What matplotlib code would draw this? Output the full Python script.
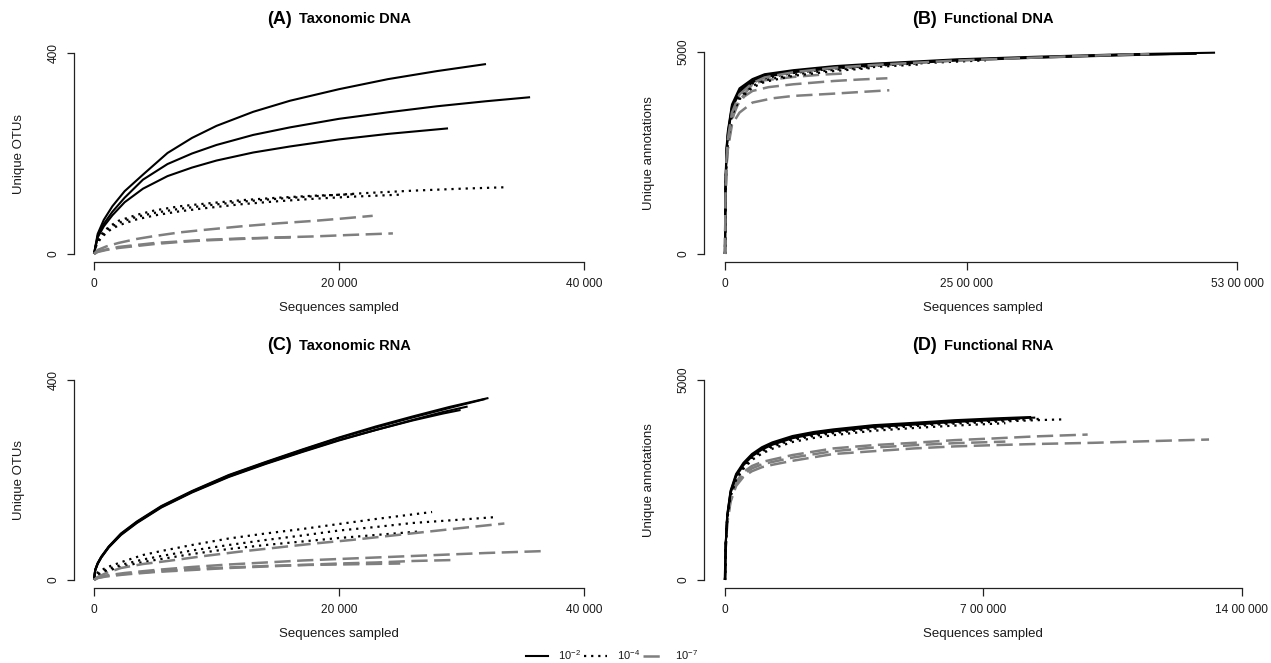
import matplotlib
matplotlib.use("Agg")
import matplotlib.pyplot as plt
from matplotlib.lines import Line2D

plt.rcParams['font.family'] = ['Liberation Sans', 'DejaVu Sans']
plt.rcParams['mathtext.fontset'] = 'custom'
plt.rcParams['mathtext.rm'] = 'Liberation Sans'
plt.rcParams['mathtext.default'] = 'regular'

# ---------------- DATA ----------------
# Panel A: Taxonomic DNA (x: sequences sampled, y: unique OTUs)
A_s1_x = [0, 300, 800, 1500, 2500, 4000, 6000, 8000, 10000, 13000, 16000, 20000, 24000, 28000, 32000]
A_s1_y = [0, 40, 68, 95, 125, 158, 201, 231, 255, 283, 305, 328, 348, 364, 378]
A_s2_x = [0, 300, 800, 1500, 2500, 4000, 6000, 8000, 10000, 13000, 16000, 20000, 24000, 28000, 32000, 35600]
A_s2_y = [0, 36, 60, 84, 112, 148, 179, 200, 217, 237, 252, 269, 282, 294, 304, 312]
A_s3_x = [0, 300, 800, 1500, 2500, 4000, 6000, 8000, 10000, 13000, 16000, 20000, 24000, 28900]
A_s3_y = [0, 33, 55, 77, 103, 130, 155, 172, 186, 202, 214, 228, 239, 250]
A_d1_x = [0, 200, 600, 1200, 2000, 3500, 5000, 7000, 9000, 12000, 15000, 18000, 22000, 26000, 30000, 33800]
A_d1_y = [0, 20, 36, 50, 62, 74, 82, 90, 96, 104, 110, 115, 121, 126, 130, 133]
A_d2_x = [0, 200, 600, 1200, 2000, 3500, 5000, 7000, 9000, 12000, 15000, 18000, 21000, 24900]
A_d2_y = [0, 18, 33, 46, 57, 69, 77, 85, 91, 99, 105, 110, 114, 118]
A_d3_x = [0, 200, 600, 1200, 2000, 3500, 5000, 7000, 9000, 12000, 15000, 18000, 21250]
A_d3_y = [0, 22, 39, 54, 66, 78, 87, 95, 100, 107, 112, 116, 119]
A_g1_x = [0, 300, 1000, 2000, 3500, 5000, 7000, 9000, 12000, 15000, 18000, 20000, 22750]
A_g1_y = [0, 8, 15, 22, 30, 36, 43, 48, 55, 61, 66, 70, 76]
A_g2_x = [0, 300, 1000, 2000, 3500, 5000, 7000, 9000, 12000, 15000, 18000, 21000, 24400]
A_g2_y = [0, 4, 8, 12, 16, 20, 24, 27, 30, 33, 35, 38, 41]
A_g3_x = [0, 300, 1000, 2000, 3500, 5000, 7000, 9000, 12000, 14000, 16300]
A_g3_y = [0, 5, 9, 14, 18, 22, 25, 28, 31, 32, 33]

# Panel B: Functional DNA (x: sequences sampled, y: unique annotations)
B_s1_x = [0, 5000, 15000, 30000, 72000, 150000, 284000, 410000, 707000, 1130000, 1550000, 2400000, 3250000, 4100000, 5070000]
B_s1_y = [0, 1700, 2600, 3050, 3700, 4100, 4330, 4450, 4550, 4650, 4712, 4819, 4885, 4942, 4983]
B_s2_x = [0, 5000, 15000, 30000, 72000, 150000, 284000, 410000, 707000, 1130000, 1550000, 2400000, 3250000, 4100000, 4880000]
B_s2_y = [0, 1650, 2550, 3000, 3650, 4050, 4290, 4410, 4520, 4620, 4690, 4800, 4870, 4930, 4955]
B_s3_x = [0, 5000, 15000, 30000, 72000, 150000, 284000, 410000, 707000, 1130000, 1550000, 2400000, 3250000, 4600000]
B_s3_y = [0, 1600, 2500, 2950, 3600, 4000, 4250, 4380, 4500, 4600, 4670, 4790, 4860, 4950]
B_d1_x = [0, 5000, 15000, 30000, 72000, 150000, 284000, 410000, 707000, 1130000, 1550000, 2100000, 2700000]
B_d1_y = [0, 1550, 2450, 2900, 3550, 3950, 4220, 4350, 4480, 4590, 4660, 4730, 4794]
B_d2_x = [0, 5000, 15000, 30000, 72000, 150000, 284000, 410000, 707000, 1130000, 1550000, 2000000]
B_d2_y = [0, 1500, 2400, 2850, 3480, 3880, 4160, 4300, 4440, 4560, 4630, 4690]
B_d3_x = [0, 5000, 15000, 30000, 72000, 150000, 284000, 410000, 707000, 1130000, 1500000]
B_d3_y = [0, 1450, 2350, 2800, 3430, 3830, 4120, 4260, 4410, 4530, 4600]
B_g1_x = [0, 5000, 15000, 30000, 72000, 150000, 284000, 410000, 707000, 1130000, 1550000, 2400000, 3250000, 3800000, 4390000]
B_g1_y = [0, 1450, 2350, 2850, 3500, 3950, 4230, 4370, 4500, 4610, 4680, 4790, 4865, 4910, 4950]
B_g2_x = [0, 5000, 15000, 30000, 72000, 150000, 284000, 410000, 707000, 1000000, 1215000]
B_g2_y = [0, 1400, 2250, 2750, 3350, 3800, 4201, 4300, 4382, 4440, 4465]
B_g3_x = [0, 5000, 15000, 30000, 72000, 114000, 200000, 284000, 450000, 707000, 1130000, 1400000, 1680000]
B_g3_y = [0, 1350, 2200, 2650, 3300, 3650, 3900, 4036, 4130, 4201, 4283, 4320, 4350]
B_g4_x = [0, 5000, 15000, 30000, 72000, 150000, 284000, 495000, 707000, 1130000, 1400000, 1700000]
B_g4_y = [0, 1300, 2150, 2600, 3200, 3500, 3748, 3855, 3913, 3970, 4010, 4053]

# Panel C: Taxonomic RNA
C_s1_x = [0, 100, 300, 600, 1200, 2200, 3500, 5500, 8000, 11000, 14000, 17000, 20000, 23000, 26000, 29000, 31935]
C_s1_y = [0, 20, 33, 46, 66, 92, 116, 147, 177, 209, 235, 260, 284, 305, 325, 344, 362]
C_s2_x = [0, 100, 300, 600, 1200, 2200, 3500, 5500, 8000, 11000, 14000, 17000, 20000, 23000, 26000, 28500, 29925]
C_s2_y = [0, 20, 33, 46, 66, 91, 115, 146, 176, 207, 233, 257, 280, 300, 319, 333, 340]
C_s3_x = [0, 100, 300, 600, 1200, 2200, 3500, 5500, 8000, 11000, 14000, 17000, 20000, 23000, 26000, 29000, 32200]
C_s3_y = [0, 21, 34, 47, 67, 93, 117, 148, 178, 210, 236, 261, 285, 307, 327, 346, 364]
C_s4_x = [0, 100, 300, 600, 1200, 2200, 3500, 5500, 8000, 11000, 14000, 17000, 20000, 23000, 26000, 28500, 30500]
C_s4_y = [0, 19, 32, 45, 65, 90, 114, 145, 175, 206, 232, 256, 279, 300, 320, 336, 347]
C_d1_x = [0, 300, 1000, 2500, 4000, 5500, 8000, 11000, 14000, 17000, 20000, 23000, 27600]
C_d1_y = [0, 15, 25, 38, 50, 58, 70, 83, 93, 102, 112, 122, 136]
C_d2_x = [0, 300, 1000, 2500, 4000, 5500, 8000, 11000, 14000, 17000, 20000, 23000, 26000, 29500, 32900]
C_d2_y = [0, 12, 21, 32, 41, 48, 59, 70, 80, 89, 99, 106, 114, 120, 126]
C_d3_x = [0, 300, 1000, 2500, 4000, 5500, 8000, 11000, 14000, 17000, 20000, 23000, 26500]
C_d3_y = [0, 10, 18, 28, 36, 42, 52, 62, 70, 77, 84, 90, 97]
C_g1_x = [0, 300, 1000, 2200, 4000, 6000, 9000, 12000, 15000, 18000, 21000, 24000, 27000, 30000, 33500]
C_g1_y = [0, 6, 14, 24, 32, 38, 48, 57, 65, 73, 80, 88, 96, 104, 113]
C_g2_x = [0, 300, 1000, 2500, 5000, 8000, 11000, 14000, 17000, 20000, 24000, 28000, 32000, 36900]
C_g2_y = [0, 5, 9, 14, 20, 26, 31, 35, 39, 42, 46, 50, 54, 58]
C_g3_x = [0, 300, 1000, 2500, 5000, 8000, 11000, 14000, 17000, 20000, 23000, 26000, 29400]
C_g3_y = [0, 4, 7, 11, 16, 20, 24, 27, 30, 33, 35, 38, 40]
C_g4_x = [0, 300, 1000, 2500, 5000, 8000, 11000, 14000, 17000, 20000, 22500, 25000]
C_g4_y = [0, 4, 8, 12, 17, 22, 25, 28, 30, 31, 32, 33]

# Panel D: Functional RNA
D_s1_x = [0, 2000, 6000, 15000, 30000, 50000, 73000, 100000, 128000, 183000, 240000, 293000, 402000, 512000, 622000, 730000, 841000]
D_s1_y = [0, 900, 1600, 2200, 2620, 2900, 3124, 3290, 3413, 3579, 3680, 3744, 3851, 3909, 3975, 4020, 4060]
D_s2_x = [0, 2000, 6000, 15000, 30000, 50000, 73000, 100000, 128000, 183000, 240000, 293000, 402000, 512000, 622000, 720000, 800000]
D_s2_y = [0, 880, 1570, 2170, 2590, 2870, 3090, 3260, 3380, 3545, 3650, 3715, 3825, 3885, 3950, 3995, 4035]
D_s3_x = [0, 2000, 6000, 15000, 30000, 50000, 73000, 100000, 128000, 183000, 240000, 293000, 402000, 512000, 622000, 730000, 830000]
D_s3_y = [0, 920, 1630, 2230, 2650, 2930, 3150, 3320, 3440, 3600, 3700, 3765, 3870, 3930, 3995, 4040, 4075]
D_d1_x = [0, 2000, 6000, 15000, 30000, 50000, 73000, 100000, 128000, 183000, 240000, 293000, 402000, 512000, 622000, 730000, 841000, 918000]
D_d1_y = [0, 860, 1540, 2120, 2540, 2820, 3050, 3210, 3330, 3500, 3600, 3670, 3780, 3845, 3910, 3955, 3995, 4016]
D_d2_x = [0, 2000, 6000, 15000, 30000, 50000, 73000, 100000, 128000, 183000, 240000, 293000, 402000, 512000, 622000, 760000]
D_d2_y = [0, 840, 1500, 2080, 2500, 2780, 3000, 3160, 3280, 3450, 3550, 3620, 3730, 3800, 3860, 3920]
D_d3_x = [0, 2000, 6000, 15000, 30000, 50000, 73000, 100000, 128000, 183000, 240000, 293000, 402000, 512000, 622000, 730000, 860000]
D_d3_y = [0, 870, 1560, 2150, 2570, 2850, 3075, 3240, 3360, 3530, 3630, 3700, 3810, 3875, 3940, 3985, 4030]
D_g1_x = [0, 2000, 6000, 15000, 30000, 50000, 73000, 100000, 128000, 183000, 293000, 402000, 512000, 622000, 731000, 841000, 983000]
D_g1_y = [0, 850, 1500, 2050, 2450, 2700, 2850, 2950, 3010, 3124, 3289, 3372, 3430, 3496, 3540, 3590, 3636]
D_g2_x = [0, 2000, 6000, 15000, 30000, 50000, 73000, 100000, 128000, 183000, 293000, 402000, 512000, 622000, 760000]
D_g2_y = [0, 820, 1450, 2000, 2400, 2640, 2790, 2890, 2950, 3060, 3220, 3310, 3370, 3420, 3460]
D_g3_x = [0, 2000, 6000, 15000, 30000, 50000, 73000, 100000, 128000, 183000, 293000, 402000, 512000, 622000, 731000, 841000, 1000000, 1150000, 1312000]
D_g3_y = [0, 800, 1400, 1950, 2350, 2580, 2720, 2820, 2880, 2980, 3149, 3220, 3289, 3340, 3372, 3400, 3430, 3471, 3512]

titles = [("(A)", "Taxonomic DNA"), ("(B)", "Functional DNA"),
          ("(C)", "Taxonomic RNA"), ("(D)", "Functional RNA")]
ylabels = ["Unique OTUs", "Unique annotations", "Unique OTUs", "Unique annotations"]
xlabel = "Sequences sampled"
x_ticks = [[0, 20000, 40000], [0, 2500000, 5300000], [0, 20000, 40000], [0, 700000, 1400000]]
x_ticklabels = [["0", "20 000", "40 000"], ["0", "25 00 000", "53 00 000"],
                ["0", "20 000", "40 000"], ["0", "7 00 000", "14 00 000"]]
y_ticks = [[0, 400], [0, 5000], [0, 400], [0, 5000]]
y_ticklabels = [["0", "400"], ["0", "5000"], ["0", "400"], ["0", "5000"]]
legend_labels = [r"$10^{-2}$", r"$10^{-4}$", r"$10^{-7}$"]

# ---------------- STYLE / LAYOUT ----------------
W, H = 1271, 663
fig = plt.figure(figsize=(W / 100, H / 100), dpi=100)

BLACK = "#000000"
GREY = "#7f7f7f"
style = {
    "s": dict(color=BLACK, lw=1.5, linestyle="-"),
    "d": dict(color=BLACK, lw=1.6, linestyle=(0, (1.0, 2.2))),
    "g": dict(color=GREY, lw=1.8, linestyle=(0, (6.5, 2.6))),
}

# pixel geometry: (left, right, top, bottom), x anchors (px0, val0, px1, val1), y anchors
panels = [
    ((74.4, 604.4, 45, 262), (94, 0, 584, 40000), (254, 0, 53, 400)),
    ((704.3, 1262.0, 45, 262), (725, 0, 1237.3, 5300000), (254, 0, 52, 5000)),
    ((74.4, 604.4, 372, 588), (94, 0, 584, 40000), (580, 0, 380, 400)),
    ((704.3, 1262.0, 372, 588), (725, 0, 1241.5, 1400000), (580, 0, 380, 5000)),
]

series = [
    [("s", A_s1_x, A_s1_y), ("s", A_s2_x, A_s2_y), ("s", A_s3_x, A_s3_y),
     ("d", A_d1_x, A_d1_y), ("d", A_d2_x, A_d2_y), ("d", A_d3_x, A_d3_y),
     ("g", A_g1_x, A_g1_y), ("g", A_g2_x, A_g2_y), ("g", A_g3_x, A_g3_y)],
    [("g", B_g2_x, B_g2_y), ("g", B_g3_x, B_g3_y), ("g", B_g4_x, B_g4_y),
     ("d", B_d1_x, B_d1_y), ("d", B_d2_x, B_d2_y), ("d", B_d3_x, B_d3_y),
     ("s", B_s1_x, B_s1_y), ("s", B_s2_x, B_s2_y), ("s", B_s3_x, B_s3_y),
     ("g", B_g1_x, B_g1_y)],
    [("s", C_s1_x, C_s1_y), ("s", C_s2_x, C_s2_y), ("s", C_s3_x, C_s3_y), ("s", C_s4_x, C_s4_y),
     ("d", C_d1_x, C_d1_y), ("d", C_d2_x, C_d2_y), ("d", C_d3_x, C_d3_y),
     ("g", C_g1_x, C_g1_y), ("g", C_g2_x, C_g2_y), ("g", C_g3_x, C_g3_y), ("g", C_g4_x, C_g4_y)],
    [("g", D_g1_x, D_g1_y), ("g", D_g2_x, D_g2_y), ("g", D_g3_x, D_g3_y),
     ("d", D_d1_x, D_d1_y), ("d", D_d2_x, D_d2_y), ("d", D_d3_x, D_d3_y),
     ("s", D_s1_x, D_s1_y), ("s", D_s2_x, D_s2_y), ("s", D_s3_x, D_s3_y)],
]


def lim_from_px(lo_px, hi_px, a):
    p0, v0, p1, v1 = a
    s = (p1 - p0) / (v1 - v0)
    return v0 + (lo_px - p0) / s, v0 + (hi_px - p0) / s


renderer = fig.canvas.get_renderer()
TEXT_C = "#1a1a1a"

for i, ((l, r, t, b), xa, ya) in enumerate(panels):
    ax = fig.add_axes([l / W, 1 - b / H, (r - l) / W, (b - t) / H])
    ax.set_xlim(*lim_from_px(l, r, xa))
    ylo, yhi = lim_from_px(b, t, ya)
    ax.set_ylim(ylo, yhi)
    for kind, xs, ys in series[i]:
        ax.plot(xs, ys, solid_capstyle="butt", dash_capstyle="butt", **style[kind])
    for side in ("top", "right"):
        ax.spines[side].set_visible(False)
    for side in ("left", "bottom"):
        ax.spines[side].set_linewidth(0.9)
        ax.spines[side].set_color("#222222")
    ax.spines["left"].set_bounds(y_ticks[i][0], y_ticks[i][-1])
    ax.spines["bottom"].set_bounds(x_ticks[i][0], x_ticks[i][-1])
    ax.set_xticks(x_ticks[i])
    ax.set_xticklabels(x_ticklabels[i])
    ax.set_yticks(y_ticks[i])
    ax.set_yticklabels(y_ticklabels[i], rotation=90, va="center")
    ax.tick_params(direction="out", length=5.4, width=0.9, colors="#222222",
                   labelsize=8.6, labelcolor=TEXT_C)
    ax.tick_params(axis="x", pad=6)
    ax.tick_params(axis="y", pad=5)
    ax.patch.set_visible(False)

    cx = (l + r) / 2
    fig.text(cx / W, 1 - (b + 46) / H, xlabel, ha="center", va="center",
             fontsize=9.5, color=TEXT_C)
    fig.text((l - 55) / W, 1 - ((t + b) / 2) / H, ylabels[i], ha="center", va="center",
             rotation=90, fontsize=9.5, color=TEXT_C)
    ty = 1 - (t - 26) / H
    t1 = fig.text(0, ty, titles[i][0], ha="left", va="center", fontsize=13,
                  fontweight="bold", color=BLACK)
    t2 = fig.text(0, ty, titles[i][1], ha="left", va="center", fontsize=10.5,
                  fontweight="bold", color=BLACK)
    w1 = t1.get_window_extent(renderer).width
    w2 = t2.get_window_extent(renderer).width
    gap = 7
    total = w1 + gap + w2
    x0 = cx - total / 2
    t1.set_x(x0 / W)
    t2.set_x((x0 + w1 + gap) / W)

handles = [Line2D([], [], **style["s"]), Line2D([], [], **style["d"]),
           Line2D([], [], **style["g"])]
fig.legend(handles, legend_labels, loc="center", bbox_to_anchor=(612 / W, 1 - 655 / H),
           ncol=3, frameon=False, fontsize=8, handlelength=2.0, handletextpad=0.9,
           columnspacing=0.3, borderaxespad=0, borderpad=0, labelcolor=TEXT_C)

fig.savefig("out.png", dpi=100)
